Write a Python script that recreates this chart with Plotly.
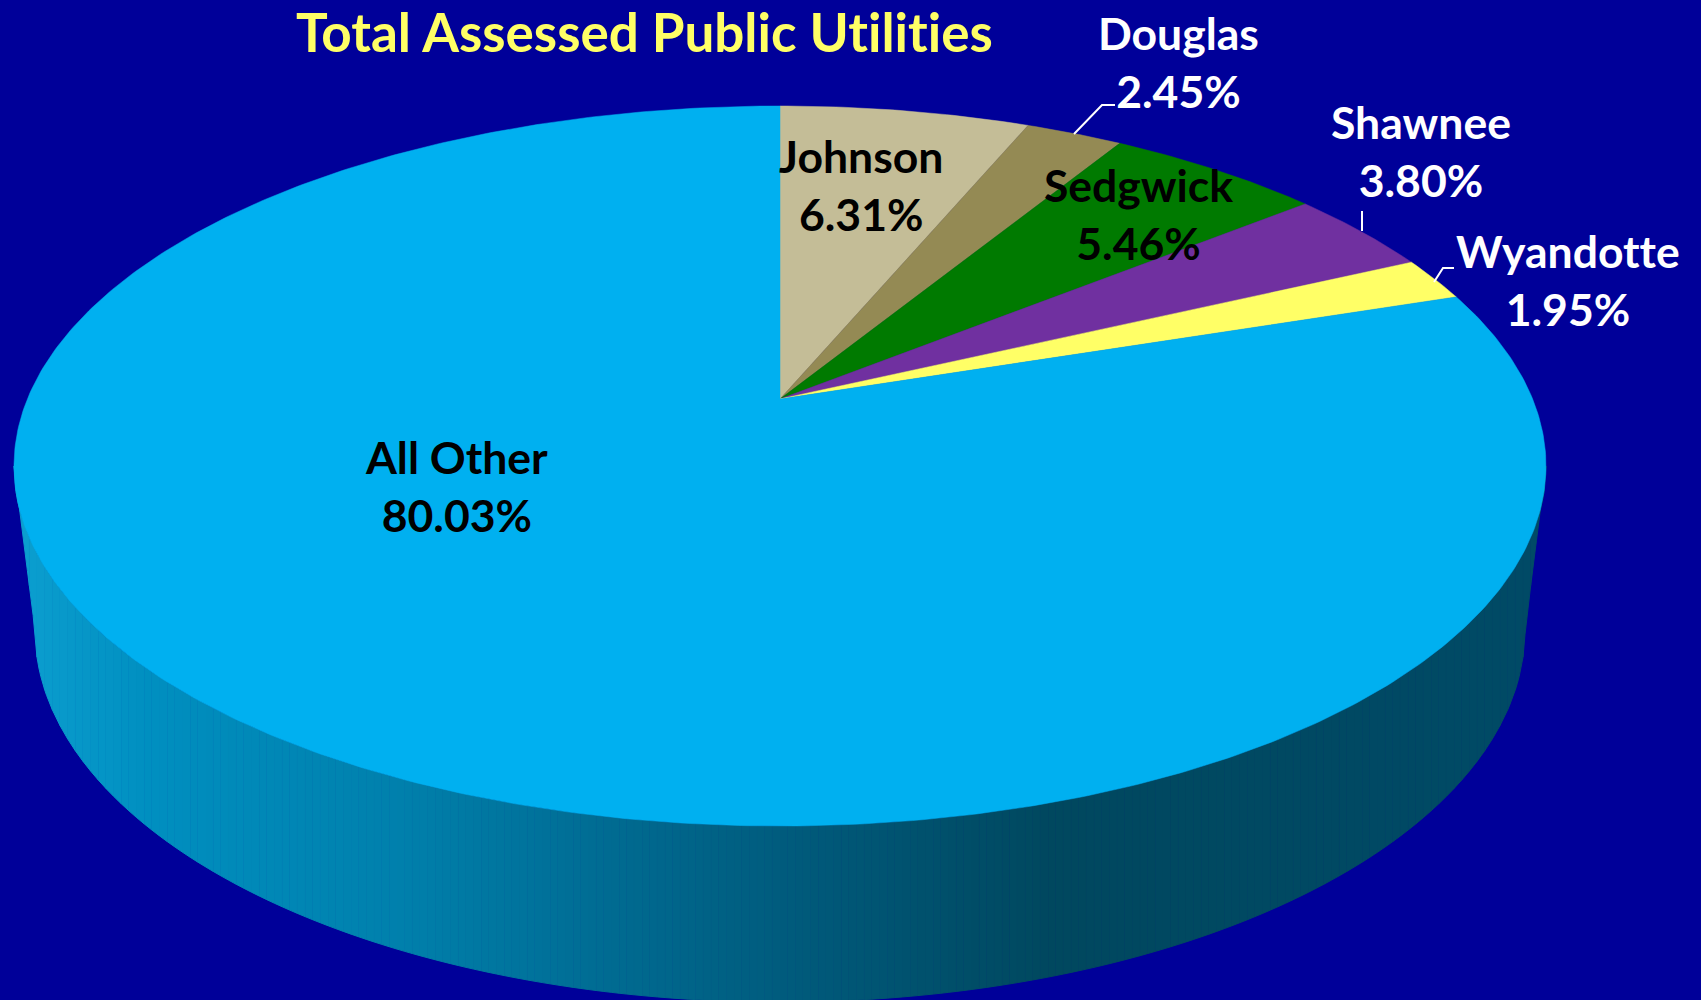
import numpy as np
import plotly.graph_objects as go

# ---- data ----
names = ["Johnson", "Douglas", "Sedgwick", "Shawnee", "Wyandotte", "All Other"]
shares = [6.31, 2.45, 5.46, 3.80, 1.95, 80.03]
slice_colors = ["#C4BD97", "#948A54", "#007A00", "#7030A0", "#FFFF66", "#00B0F0"]
label_colors = ["#000000", "#FFFFFF", "#000000", "#FFFFFF", "#FFFFFF", "#000000"]
label_x = [861, 1178, 1138, 1421, 1568, 456]
label_y = [184, 61, 213, 150, 279, 485]
title_text = "Total Assessed Public Utilities"

# ---- geometry of the tilted disc (pixels of the 1701x1000 canvas) ----
W, H = 1701, 1000
BG = "#000099"
APEX_X, APEX_Y = 780.0, 399.0
TOP_Y, BOT_Y = 106.0, 826.0
ELL_A = 766.0
up, dn = APEX_Y - TOP_Y, BOT_Y - APEX_Y
K = (dn - up) / (dn + up)
B = up * (1 + K)
A = ELL_A * np.sqrt(1 - K * K)
ELL_CY, ELL_B = (TOP_Y + BOT_Y) / 2, (BOT_Y - TOP_Y) / 2

# lower rim of the side wall
RIM_A, RIM_B, RIM_CY = 745.0, 372.0, 630.0


def project(theta):
    u, v = np.sin(theta), np.cos(theta)
    d = 1 + K * v
    return APEX_X + A * u / d, APEX_Y - B * v / d


def wall_top(x):
    t = np.clip((x - APEX_X) / ELL_A, -1, 1)
    return ELL_CY + ELL_B * np.sqrt(1 - t * t)


def wall_bottom(x):
    dx = np.abs(x - APEX_X)
    inside = dx <= RIM_A
    t = np.clip(dx / RIM_A, 0, 1)
    ell = RIM_CY + RIM_B * np.sqrt(1 - t * t)
    line = RIM_CY + (ELL_CY - RIM_CY) * (dx - RIM_A) / (ELL_A - RIM_A)
    return np.where(inside, ell, line)


shade_x = [13, 150, 400, 600, 800, 1050, 1546]
shade_r = [12, 0, 0, 0, 0, 0, 0]
shade_g = [159, 143, 128, 108, 90, 72, 74]
shade_b = [208, 192, 172, 147, 123, 95, 102]

fig = go.Figure()

# side wall, as narrow shaded strips
edges = np.linspace(APEX_X - ELL_A, APEX_X + ELL_A, 201)
for x0, x1 in zip(edges[:-1], edges[1:]):
    xs = np.linspace(x0, x1, 5)
    xm = (x0 + x1) / 2
    col = "rgb(%d,%d,%d)" % (
        round(np.interp(xm, shade_x, shade_r)),
        round(np.interp(xm, shade_x, shade_g)),
        round(np.interp(xm, shade_x, shade_b)),
    )
    fig.add_trace(go.Scatter(
        x=np.r_[xs, xs[::-1]], y=np.r_[wall_top(xs), wall_bottom(xs)[::-1]],
        mode="lines", fill="toself", fillcolor=col,
        line=dict(color=col, width=1), hoverinfo="skip", showlegend=False,
    ))

# slices
cum = np.cumsum([0] + shares)
for i, name in enumerate(names):
    th = np.linspace(cum[i], cum[i + 1], max(4, int(shares[i] * 6))) / cum[-1] * 2 * np.pi
    px, py = project(th)
    fig.add_trace(go.Scatter(
        x=np.r_[APEX_X, px, APEX_X], y=np.r_[APEX_Y, py, APEX_Y],
        mode="lines", fill="toself", fillcolor=slice_colors[i],
        line=dict(color=slice_colors[i], width=0.5),
        name=name, text=f"{name}: {shares[i]:.2f}%", hoverinfo="text", showlegend=False,
    ))

# leader lines
leaders = {
    "Douglas": ([1074, 1102, 1115], [134, 105, 105]),
    "Shawnee": ([1362, 1362], [231, 211]),
    "Wyandotte": ([1434, 1443, 1454], [282, 268, 268]),
}
for lx, ly in leaders.values():
    fig.add_trace(go.Scatter(x=lx, y=ly, mode="lines", line=dict(color="#FFFFFF", width=2),
                             hoverinfo="skip", showlegend=False))

# labels
for n, v, c, lx, ly in zip(names, shares, label_colors, label_x, label_y):
    fig.add_annotation(x=lx, y=ly, xref="x", yref="y", showarrow=False,
                       text=f"<b>{n}<br>{v:.2f}%</b>", align="center",
                       font=dict(family="Lato", size=44.5, color=c))
fig.add_annotation(x=644, y=31, xref="x", yref="y", showarrow=False,
                   text=f"<b>{title_text}</b>",
                   font=dict(family="Lato", size=53, color="#FFFF66"))

fig.update_layout(
    width=W, height=H, margin=dict(l=0, r=0, t=0, b=0),
    paper_bgcolor=BG, plot_bgcolor=BG,
    xaxis=dict(range=[0, W], visible=False, fixedrange=True),
    yaxis=dict(range=[H, 0], visible=False, fixedrange=True),
)
post = (
    "document.body.style.margin='0';"
    "document.body.style.background='%s';"
    "document.body.style.overflow='hidden';"
    "var s=document.createElement('style');"
    "s.textContent='svg text{font-variant-ligatures:none!important;font-feature-settings:\"liga\" 0,\"clig\" 0!important}';"
    "document.head.appendChild(s);"
) % BG
fig.write_html("out.html", config=dict(displayModeBar=False), post_script=post)
